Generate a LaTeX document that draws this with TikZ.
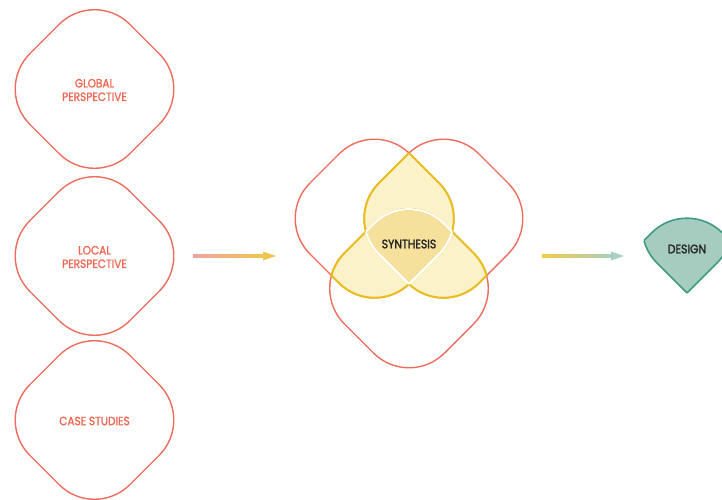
\documentclass[tikz,border=0pt]{standalone}
\usepackage{fontspec}
\setmainfont{Poppins}[FakeStretch=0.88]
\newfontfamily\medfont{Poppins}[FakeStretch=0.88, FakeBold=1.2]
\newfontfamily\dkfont{Poppins}[FakeStretch=0.88, FakeBold=1.8]
\usetikzlibrary{calc}
\definecolor{coral}{HTML}{EE6C5C}
\definecolor{coraltxt}{HTML}{EE6650}
\definecolor{yelline}{HTML}{E9BD1E}
\definecolor{lightyel}{HTML}{FBF2C9}
\definecolor{midyel}{HTML}{F5E19B}
\definecolor{tealfill}{HTML}{A5CCBF}
\definecolor{tealline}{HTML}{3F9A82}
\definecolor{darktxt}{HTML}{262626}
\definecolor{arrpink}{HTML}{F0A3A0}
\definecolor{arryel}{HTML}{F0C650}
\definecolor{arrgreen}{HTML}{A9CFBD}
\newcommand\rdia[1]{($(#1)+(0,-100)$) -- ($(#1)+(100,0)$) -- ($(#1)+(0,100)$) -- ($(#1)+(-100,0)$) -- cycle}
\tikzset{
  rc/.style={rounded corners=50pt},
  redshape/.style={draw=coral, line width=1.4pt, rc},
  yelshape/.style={draw=yelline, line width=2pt, rc},
  whiteshape/.style={draw=white, line width=2.2pt, rc},
  tealshape/.style={draw=tealline, line width=1.6pt, rc},
  lbl/.style={text=coraltxt, font=\medfont\fontsize{12}{13.5}\selectfont, align=center, inner sep=0pt},
  dk/.style={text=darktxt, font=\dkfont\fontsize{12.3}{14}\selectfont, inner sep=0pt}
}
\begin{document}
\begin{tikzpicture}[x=1pt,y=-1pt]
\clip (0,0) rectangle (722,500);
% left column
\coordinate (G) at (94.5,89);
\coordinate (L) at (94.5,256);
\coordinate (C) at (94.5,420);
\draw[redshape] \rdia{G};
\draw[redshape] \rdia{L};
\draw[redshape] \rdia{C};
\node[lbl] (tg) at (94.5,90) {GLOBAL\\PERSPECTIVE};
\node[lbl] (tl) at (94.5,257) {LOCAL\\PERSPECTIVE};
\node[lbl] (tc) at (94.5,421) {CASE STUDIES};
% center venn
\coordinate (TL) at (374.5,218.5);
\coordinate (TR) at (443.5,218.5);
\coordinate (B) at (409,288.5);
\draw[redshape] \rdia{TL};
\draw[redshape] \rdia{TR};
\draw[redshape] \rdia{B};
\foreach \a/\b in {TL/TR,TL/B,TR/B}{
  \begin{scope}
    \clip[rc] \rdia{\a};
    \clip[rc] \rdia{\b};
    \fill[lightyel] (250,100) rectangle (560,400);
  \end{scope}}
\begin{scope}
  \clip[rc] \rdia{TL};
  \clip[rc] \rdia{TR};
  \clip[rc] \rdia{B};
  \fill[midyel] (250,100) rectangle (560,400);
\end{scope}
\foreach \a/\b in {TL/TR,TR/TL,TL/B,B/TL,TR/B,B/TR}{
  \begin{scope}
    \clip[rc] \rdia{\a};
    \draw[yelshape] \rdia{\b};
  \end{scope}}
\foreach \a/\b/\c in {TL/TR/B,TL/B/TR,TR/B/TL}{
  \begin{scope}
    \clip[rc] \rdia{\a};
    \clip[rc] \rdia{\b};
    \draw[whiteshape] \rdia{\c};
  \end{scope}}
\node[dk] (syn) at (409,244) {SYNTHESIS};
% design
\coordinate (DTL) at (652.5,227.5);
\coordinate (DTR) at (721.5,227.5);
\coordinate (DB) at (687,297.5);
\begin{scope}
  \clip[rc] \rdia{DTL};
  \clip[rc] \rdia{DTR};
  \clip[rc] \rdia{DB};
  \fill[tealfill] (550,100) rectangle (800,400);
\end{scope}
\foreach \a/\b/\c in {DTL/DTR/DB,DTL/DB/DTR,DTR/DB/DTL}{
  \begin{scope}
    \clip[rc] \rdia{\a};
    \clip[rc] \rdia{\b};
    \draw[tealshape] \rdia{\c};
  \end{scope}}
\node[dk] (des) at (687,249) {DESIGN};
% arrows
\coordinate (a1s) at (193,256);
\coordinate (a1e) at (276,256);
\shade[left color=arrpink, right color=arryel] ($(a1s)+(0,-1.1)$) rectangle ($(a1e)+(-12,1.1)$);
\fill[arryel] (a1e) -- ($(a1e)+(-13,-4.5)$) -- ($(a1e)+(-13,4.5)$) -- cycle;
\coordinate (a2s) at (542,256);
\coordinate (a2e) at (624,256);
\shade[left color=arryel!90!yellow, right color=arrgreen] ($(a2s)+(0,-1.1)$) rectangle ($(a2e)+(-12,1.1)$);
\fill[arrgreen] (a2e) -- ($(a2e)+(-13,-4.5)$) -- ($(a2e)+(-13,4.5)$) -- cycle;
\end{tikzpicture}
\end{document}
